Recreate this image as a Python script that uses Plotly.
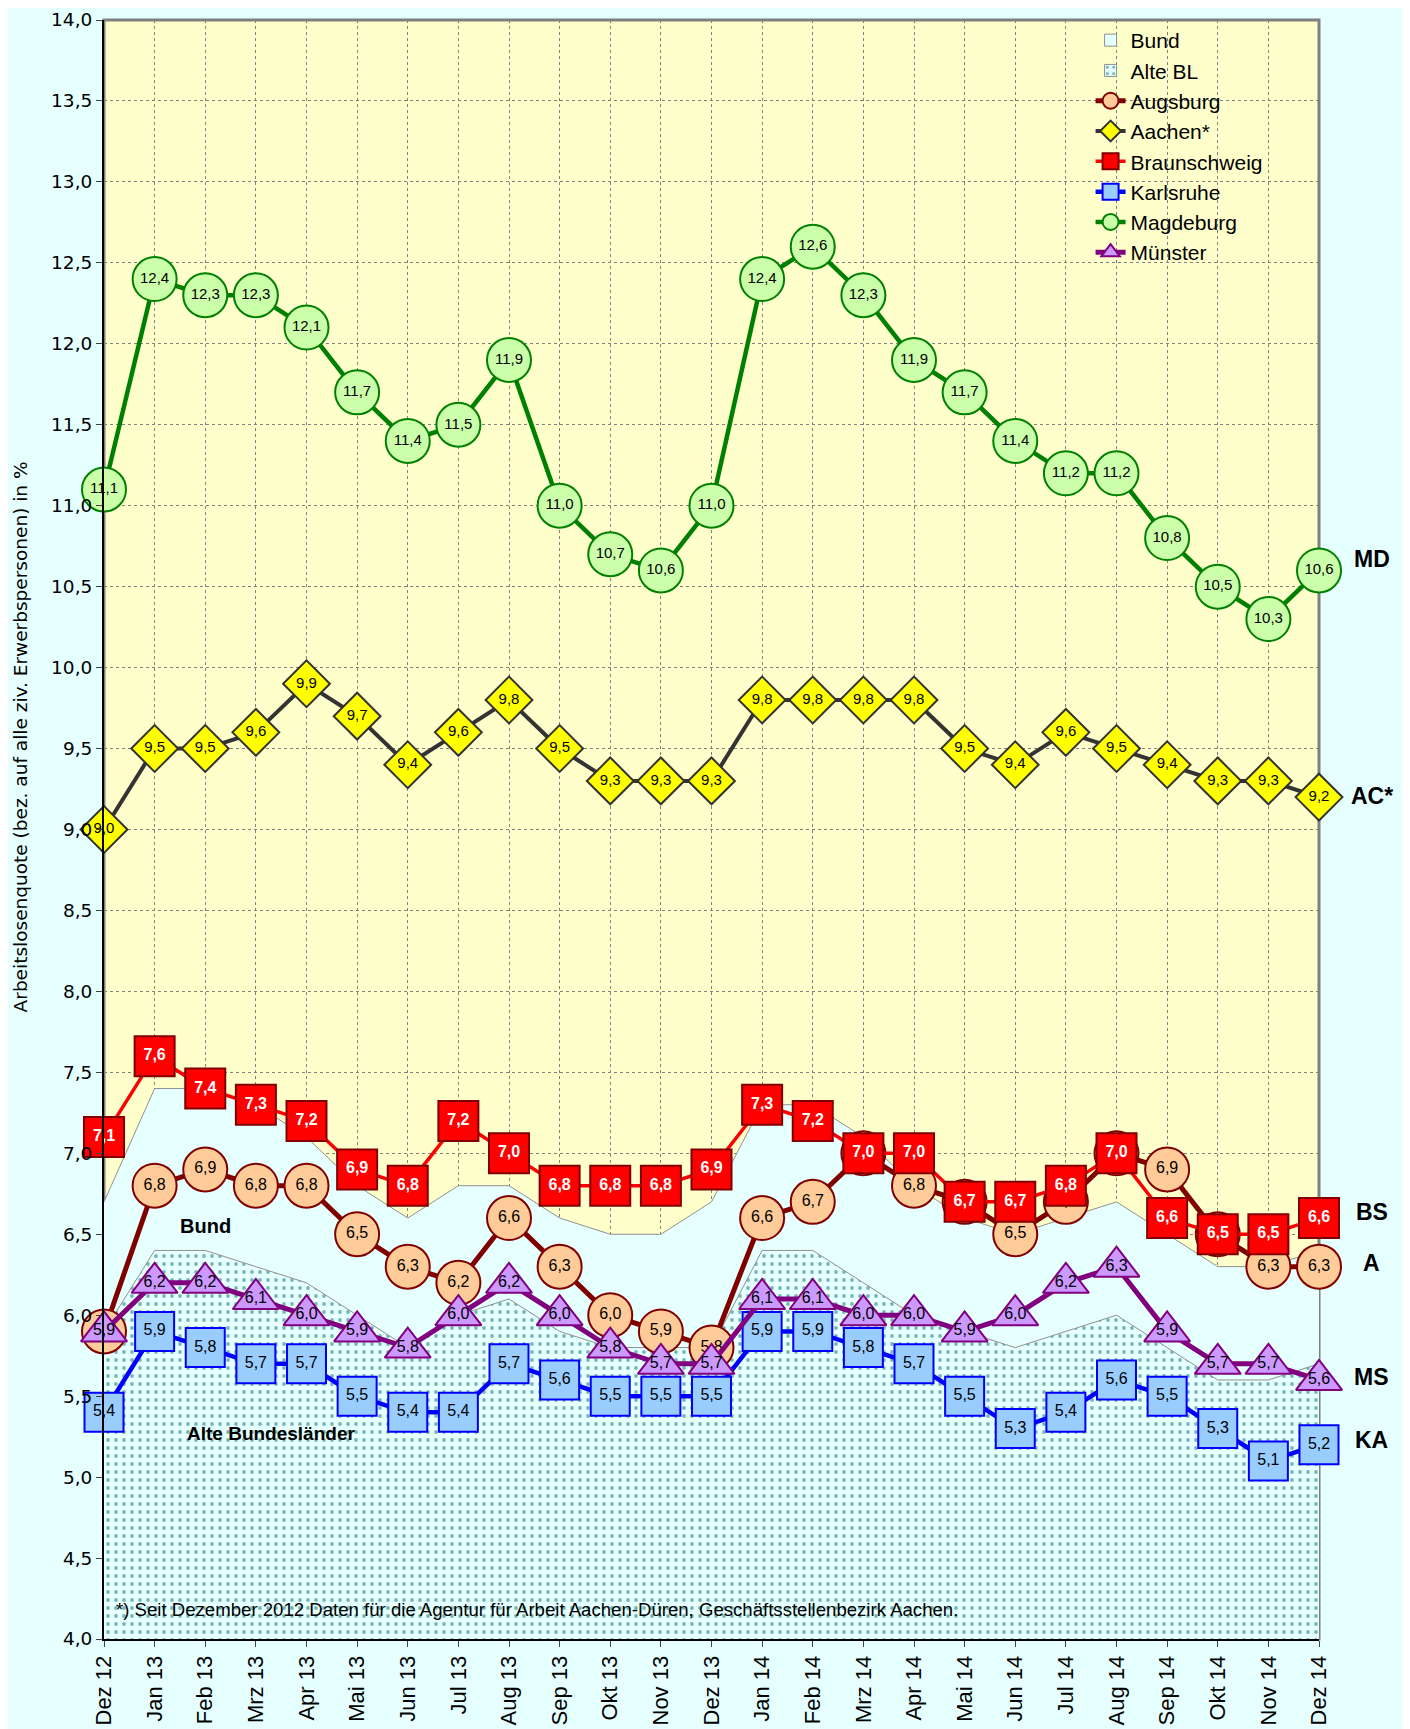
import plotly.graph_objects as go

# Monate Dez 2012 bis Dez 2014
months = ["Dez 12", "Jan 13", "Feb 13", "Mrz 13", "Apr 13", "Mai 13", "Jun 13",
          "Jul 13", "Aug 13", "Sep 13", "Okt 13", "Nov 13", "Dez 13",
          "Jan 14", "Feb 14", "Mrz 14", "Apr 14", "Mai 14", "Jun 14",
          "Jul 14", "Aug 14", "Sep 14", "Okt 14", "Nov 14", "Dez 14"]

bund = [6.7, 7.4, 7.4, 7.3, 7.1, 6.8, 6.6, 6.8, 6.8, 6.6, 6.5, 6.5, 6.7,
        7.3, 7.3, 7.1, 6.8, 6.6, 6.5, 6.6, 6.7, 6.5, 6.3, 6.3, 6.4]
alte_bl = [5.9, 6.4, 6.4, 6.3, 6.2, 6.0, 5.8, 6.0, 6.1, 5.9, 5.8, 5.8, 5.8,
           6.4, 6.4, 6.2, 6.0, 5.9, 5.8, 5.9, 6.0, 5.8, 5.6, 5.6, 5.7]
augsburg = [5.9, 6.8, 6.9, 6.8, 6.8, 6.5, 6.3, 6.2, 6.6, 6.3, 6.0, 5.9, 5.8,
            6.6, 6.7, 7.0, 6.8, 6.7, 6.5, 6.7, 7.0, 6.9, 6.5, 6.3, 6.3]
aachen = [9.0, 9.5, 9.5, 9.6, 9.9, 9.7, 9.4, 9.6, 9.8, 9.5, 9.3, 9.3, 9.3,
          9.8, 9.8, 9.8, 9.8, 9.5, 9.4, 9.6, 9.5, 9.4, 9.3, 9.3, 9.2]
braunschweig = [7.1, 7.6, 7.4, 7.3, 7.2, 6.9, 6.8, 7.2, 7.0, 6.8, 6.8, 6.8, 6.9,
                7.3, 7.2, 7.0, 7.0, 6.7, 6.7, 6.8, 7.0, 6.6, 6.5, 6.5, 6.6]
karlsruhe = [5.4, 5.9, 5.8, 5.7, 5.7, 5.5, 5.4, 5.4, 5.7, 5.6, 5.5, 5.5, 5.5,
             5.9, 5.9, 5.8, 5.7, 5.5, 5.3, 5.4, 5.6, 5.5, 5.3, 5.1, 5.2]
magdeburg = [11.1, 12.4, 12.3, 12.3, 12.1, 11.7, 11.4, 11.5, 11.9, 11.0, 10.7, 10.6, 11.0,
             12.4, 12.6, 12.3, 11.9, 11.7, 11.4, 11.2, 11.2, 10.8, 10.5, 10.3, 10.6]
muenster = [5.9, 6.2, 6.2, 6.1, 6.0, 5.9, 5.8, 6.0, 6.2, 6.0, 5.8, 5.7, 5.7,
            6.1, 6.1, 6.0, 6.0, 5.9, 6.0, 6.2, 6.3, 5.9, 5.7, 5.7, 5.6]

end_labels = [("MD", 10.67), ("AC*", 9.21), ("BS", 6.64), ("A", 6.32), ("MS", 5.62), ("KA", 5.23)]

BG = "#E6FFFF"
FONT = "Arial, Liberation Sans, sans-serif"
WIDE = "DejaVu Sans, sans-serif"
DOTS = dict(shape=".", fgcolor="#0b6e6e", bgcolor=BG, size=8, solidity=0.18)

fig = go.Figure()

# Flaechen (Legende ueber Balken-Platzhalter, damit ein Kasten erscheint)
fig.add_trace(go.Scatter(
    x=months, y=bund, name="Bund", mode="lines", fill="tozeroy", showlegend=False,
    fillcolor=BG, line=dict(color="#909090", width=1)))
fig.add_trace(go.Scatter(
    x=months, y=alte_bl, name="Alte BL", mode="lines", fill="tozeroy", showlegend=False,
    fillcolor=BG, line=dict(color="#909090", width=1), fillpattern=DOTS))
fig.add_trace(go.Bar(x=[months[0]], y=[None], name="Bund",
                     marker=dict(color=BG, line=dict(color="#909090", width=1))))
fig.add_trace(go.Bar(x=[months[0]], y=[None], name="Alte BL",
                     marker=dict(color=BG, line=dict(color="#909090", width=1), pattern=DOTS)))

series = [
    ("Augsburg", augsburg, "#800000", 5, "circle", 44, "#FFCC99", "#800000", "black", False, 16),
    ("Aachen*", aachen, "#333333", 4, "diamond", 36, "#FFFF00", "#333333", "black", False, 15),
    ("Braunschweig", braunschweig, "#FF0000", 3.5, "square", 40, "#FF0000", "#800000", "white", True, 16),
    ("Karlsruhe", karlsruhe, "#0000FF", 4.5, "square", 39, "#99CCFF", "#0000FF", "black", False, 16),
    ("Magdeburg", magdeburg, "#008000", 4.5, "circle", 44, "#CCFFAA", "#008000", "black", False, 15),
    ("Münster", muenster, "#800080", 5, "triangle-up", 40, "#CC99FF", "#800080", "black", False, 16),
]

for name, vals, lc, lw, sym, size, mfill, mline, tcol, bold, fs in series:
    fig.add_trace(go.Scatter(
        x=months, y=vals, name=name, mode="lines+markers+text",
        line=dict(color=lc, width=lw),
        marker=dict(symbol=sym, size=size, color=mfill, line=dict(color=mline, width=2)),
        texttemplate="%{y:.1f}", textposition="middle center",
        textfont=dict(family=FONT, size=fs, color=tcol, weight="bold" if bold else "normal"),
        cliponaxis=False))

annotations = [
    dict(x="Feb 13", y=6.55, text="<b>Bund</b>", showarrow=False,
         font=dict(family=FONT, size=20, color="black")),
    dict(x=3.3, y=5.27, text="<b>Alte Bundesländer</b>", showarrow=False,
         font=dict(family=FONT, size=19, color="black")),
    dict(x=0.2, y=4.18, xanchor="left",
         text="*) Seit Dezember 2012 Daten für die Agentur für Arbeit Aachen-Düren, Geschäftsstellenbezirk Aachen.",
         showarrow=False, font=dict(family=FONT, size=18.6, color="black")),
    dict(xref="paper", yref="paper", x=-0.069, y=0.557, xanchor="center", yanchor="middle",
         textangle=-90, showarrow=False,
         text="Arbeitslosenquote (bez. auf alle ziv. Erwerbspersonen) in %",
         font=dict(family=WIDE, size=18.5, color="black")),
]
for lab, yv in end_labels:
    annotations.append(dict(xref="paper", x=1.0436, y=yv, xanchor="center", yanchor="middle",
                            text=f"<b>{lab}</b>", showarrow=False,
                            font=dict(family=FONT, size=23, color="black")))

fig.update_layout(
    width=1402, height=1721,
    margin=dict(l=96, r=91, t=12, b=90),
    paper_bgcolor=BG, plot_bgcolor="#FFFFCC",
    separators=",.",
    font=dict(family=FONT, color="black"),
    showlegend=True,
    legend=dict(x=0.812, y=1.0, xanchor="left", yanchor="top",
                bgcolor="rgba(0,0,0,0)", font=dict(family=FONT, size=21),
                tracegroupgap=0, traceorder="normal"),
    annotations=annotations,
    shapes=[dict(type="rect", xref="paper", yref="paper", x0=0, x1=1, y0=0, y1=1,
                 line=dict(color="#808080", width=3), layer="below")],
)

fig.update_xaxes(
    type="category", range=[0, 24], tickangle=-90, automargin=False,
    tickfont=dict(family=FONT, size=22), ticks="outside", ticklen=6,
    showgrid=True, gridcolor="#808080", gridwidth=1, griddash="3px,3px",
    showline=True, linecolor="black", linewidth=2, zeroline=False)
fig.update_yaxes(
    range=[4, 14], dtick=0.5, tickformat=".1f", ticklabeloverflow="allow", automargin=False,
    tickfont=dict(family=WIDE, size=18.5), ticks="outside", ticklen=6,
    showgrid=True, gridcolor="#808080", gridwidth=1, griddash="3px,3px",
    showline=True, linecolor="black", linewidth=2, zeroline=False)

fig.write_html("out.html")
